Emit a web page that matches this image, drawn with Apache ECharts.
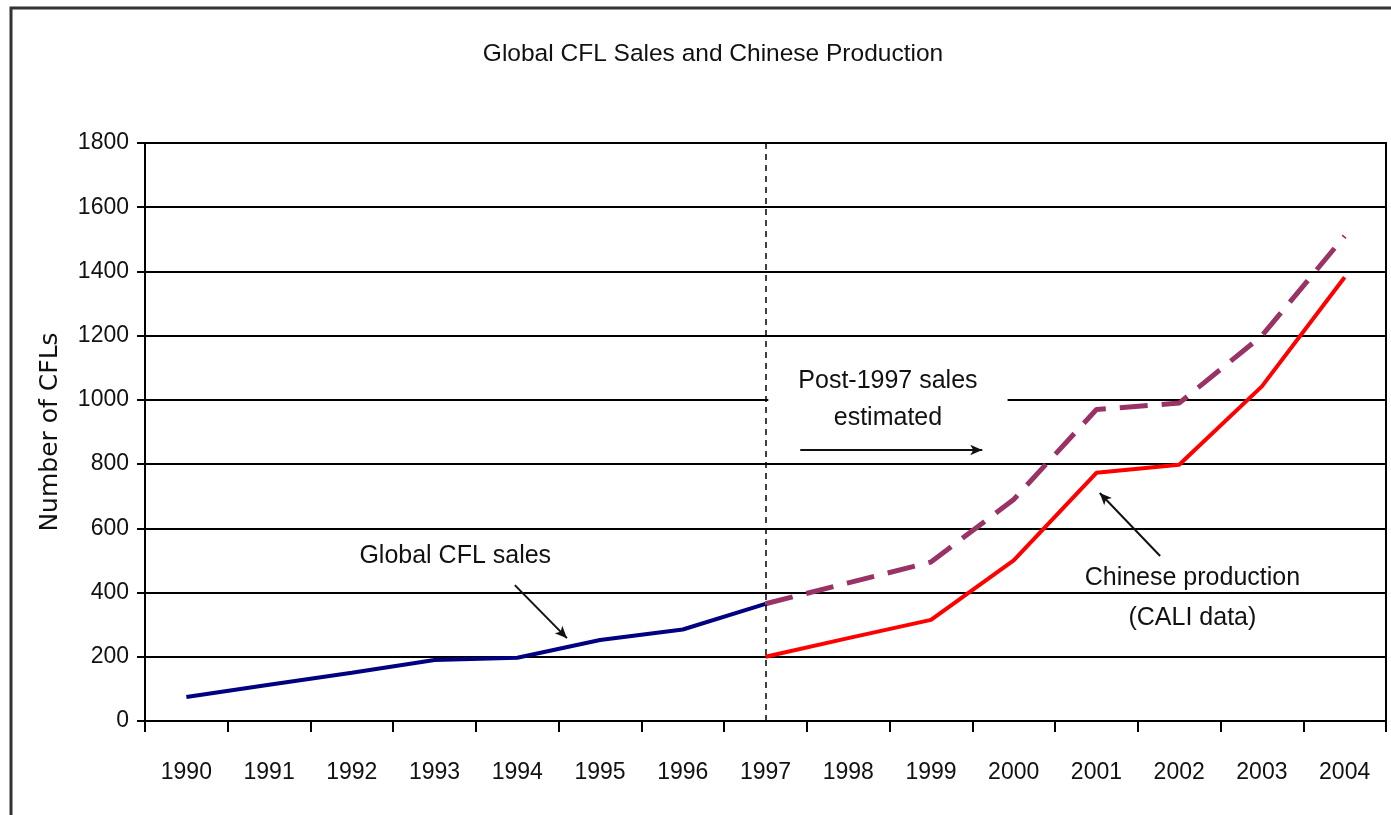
<!DOCTYPE html>
<html>
<head>
<meta charset="utf-8">
<script src="https://cdn.jsdelivr.net/npm/echarts@6/dist/echarts.min.js"></script>
<style>html,body{margin:0;padding:0;background:#fff;}#c{width:1391px;height:815px;}</style>
</head>
<body>
<div id="c"></div>
<script>
const years = ['1990','1991','1992','1993','1994','1995','1996','1997','1998','1999','2000','2001','2002','2003','2004'];
const globalSales = [75, 113, 150, 190, 197, 252, 285, 365, null, null, null, null, null, null, null];
const estimatedSales = [null, null, null, null, null, null, null, 365, 430, 495, 690, 970, 990, 1200, 1510];
const chineseProduction = [null, null, null, null, null, null, null, 200, 258, 315, 500, 773, 798, 1042, 1382];
const yTicks = [0, 200, 400, 600, 800, 1000, 1200, 1400, 1600, 1800];

const SANS = '"Liberation Sans", Arial, sans-serif';

const chart = echarts.init(document.getElementById('c'), null, {renderer: 'canvas'});
const option = {
  animation: false,
  backgroundColor: '#ffffff',
  title: {
    text: 'Global CFL Sales and Chinese Production',
    left: 708, top: 37, textAlign: 'center',
    textStyle: {fontFamily: SANS, fontSize: 24.5, fontWeight: 'normal', color: '#111'}
  },
  graphic: [{
    type: 'rect', silent: true, z: 100,
    shape: {x: 11, y: 8, width: 1420, height: 900},
    style: {fill: 'none', stroke: '#333', lineWidth: 3}
  }],
  grid: {left: 145, right: 5, top: 143, bottom: 94, show: true, borderColor: '#000', borderWidth: 2, backgroundColor: 'transparent'},
  xAxis: [{
    type: 'category', data: years, boundaryGap: true,
    axisLine: {lineStyle: {color: '#000', width: 2}},
    axisTick: {show: true, length: 11, lineStyle: {color: '#000', width: 2}},
    axisLabel: {margin: 40, fontFamily: SANS, fontSize: 23, color: '#111'},
    splitLine: {show: false}
  }, {
    type: 'value', min: -0.5, max: 14.5, show: false
  }],
  yAxis: {
    type: 'value', min: 0, max: 1800, interval: 200,
    name: 'Number of CFLs', nameLocation: 'middle', nameGap: 82,
    nameTextStyle: {fontFamily: '"DejaVu Sans", sans-serif', fontSize: 25, color: '#111'},
    axisLine: {show: true, onZero: false, lineStyle: {color: '#000', width: 2}},
    axisTick: {show: true, length: 8, lineStyle: {color: '#000', width: 2}},
    axisLabel: {margin: 16, fontFamily: SANS, fontSize: 23, color: '#111',
      formatter: v => yTicks.includes(v) ? String(v) : ''},
    splitLine: {show: true, lineStyle: {color: '#000', width: 2}}
  },
  series: [{
    name: 'Global CFL sales', type: 'line', data: globalSales,
    showSymbol: false, symbol: 'none', connectNulls: false,
    lineStyle: {color: '#000080', width: 4},
    z: 5,
    markLine: {
      silent: true, symbol: ['none', 'none'], label: {show: false},
      lineStyle: {color: '#000', width: 1.5, type: [6, 5]},
      data: [{xAxis: '1997'}]
    }
  }, {
    name: 'Post-1997 sales estimated', type: 'line', data: estimatedSales,
    showSymbol: false, symbol: 'none',
    lineStyle: {color: '#993366', width: 5, type: [28, 14]},
    z: 4
  }, {
    name: 'Chinese production', type: 'line', data: chineseProduction,
    showSymbol: false, symbol: 'none',
    lineStyle: {color: '#ff0000', width: 4},
    z: 5
  }, {
    name: 'annotations', type: 'line', xAxisIndex: 1, data: [],
    z: 6,
    markLine: {
      silent: true, symbol: ['none', 'arrow'], symbolSize: [8, 12], label: {show: false},
      lineStyle: {color: '#111', width: 2, type: 'solid'},
      data: [
        [{coord: [3.97, 423]}, {coord: [4.60, 258]}],
        [{coord: [7.42, 844]}, {coord: [9.62, 844]}],
        [{coord: [11.77, 514]}, {coord: [11.04, 710]}]
      ]
    },
    markPoint: {
      silent: true, symbol: 'rect', symbolSize: 0,
      label: {show: true, position: 'inside', fontFamily: SANS, fontSize: 25, color: '#111', align: 'center', verticalAlign: 'middle'},
      data: [
        {coord: [3.25, 514], value: 0, label: {formatter: 'Global CFL sales'}},
        {coord: [8.48, 1000], value: 0, label: {formatter: 'Post-1997 sales\nestimated', lineHeight: 37, backgroundColor: '#fff', padding: [4, 30, 4, 30]}},
        {coord: [12.16, 383], value: 0, label: {formatter: 'Chinese production\n(CALI data)', lineHeight: 40}}
      ]
    }
  }]
};
chart.setOption(option);
</script>
</body>
</html>
